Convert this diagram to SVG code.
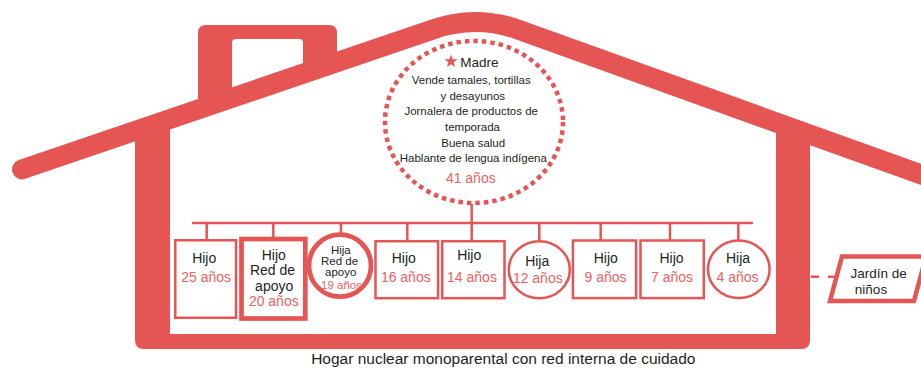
<svg xmlns="http://www.w3.org/2000/svg" width="921" height="380" viewBox="0 0 921 380">
<style>
.red{fill:#E55553}
.ln{stroke:#E55553;fill:none}
.thin{stroke:#E55553;stroke-width:2.5;fill:#fff}
.thick{stroke:#E55553;stroke-width:4.7;fill:#fff}
text{font-family:"Liberation Sans",Arial,sans-serif;text-anchor:middle}
.t{font-size:14px;fill:#231F20}
.a{font-size:14px;fill:#EA6260}
.s{font-size:11.5px;fill:#231F20}
.sa{font-size:11.5px;fill:#EA6260}
.m{font-size:11.5px;fill:#231F20}
</style>
<rect width="921" height="380" fill="#fff"/>
<g id="house">
  <path class="red" d="M198,105 V33 Q198,25 206,25 H329 Q337,25 337,33 V66 H303 V43 Q303,39 299,39 H236 Q232,39 232,43 V105 Z"/>
  <path class="red" d="M135,125 H170 V334 H776 V128 H810 V340 Q810,349 801,349 H144 Q135,349 135,340 Z"/>
  <path class="ln" stroke-width="20" stroke-linecap="round" stroke-linejoin="round" d="M22,169.4 L433.6,29.2 Q476.6,14.5 519.6,30.1 L935,179.5"/>
</g>
<g id="connectors">
  <line class="ln" stroke-width="2.5" x1="192" y1="223" x2="753" y2="223"/>
  <line class="ln" stroke-width="2.5" x1="471.7" y1="204" x2="471.7" y2="241"/>
  <line class="ln" stroke-width="2.5" x1="206.7" y1="223" x2="206.7" y2="241"/>
  <line class="ln" stroke-width="2.5" x1="273.3" y1="223" x2="273.3" y2="238"/>
  <line class="ln" stroke-width="2.5" x1="341" y1="223" x2="341" y2="234"/>
  <line class="ln" stroke-width="2.5" x1="407.3" y1="223" x2="407.3" y2="241"/>
  <line class="ln" stroke-width="2.5" x1="539.3" y1="223" x2="539.3" y2="241"/>
  <line class="ln" stroke-width="2.5" x1="600.7" y1="223" x2="600.7" y2="241"/>
  <line class="ln" stroke-width="2.5" x1="670" y1="223" x2="670" y2="241"/>
  <line class="ln" stroke-width="2.5" x1="738.3" y1="223" x2="738.3" y2="241"/>
  <line class="ln" stroke-width="2.5" stroke-dasharray="8 9" x1="811" y1="276.7" x2="837" y2="276.7"/>
</g>
<g id="madre">
  <ellipse cx="474" cy="122" rx="89" ry="81" fill="#fff" stroke="#E55553" stroke-width="4.5" stroke-dasharray="4.5 4"/>
  <polygon class="red" points="451,54.5 452.6,59.3 457.6,59.3 453.6,62.3 455.1,67.1 451,64.2 446.9,67.1 448.4,62.3 444.4,59.3 449.4,59.3"/>
  <text x="479.5" y="66.7" style="font-size:13.5px;fill:#231F20">Madre</text>
  <text class="m" x="471.2" y="84.3">Vende tamales, tortillas</text>
  <text class="m" x="472.8" y="99.5">y desayunos</text>
  <text class="m" x="471.2" y="115">Jornalera de productos de</text>
  <text class="m" x="472.5" y="130.5">temporada</text>
  <text class="m" x="473.2" y="146.5">Buena salud</text>
  <text class="m" x="473.3" y="162.3">Hablante de lengua indígena</text>
  <text x="470.8" y="182.5" style="font-size:14px;fill:#EA6260">41 años</text>
</g>
<g id="hijo25">
  <rect class="thin" x="175.25" y="240.25" width="60.8" height="77.5"/>
  <text class="t" x="204.2" y="263">Hijo</text>
  <text class="a" x="206.2" y="282">25 años</text>
</g>
<g id="hijo20">
  <rect class="thick" x="241.5" y="239" width="63.8" height="79.5"/>
  <text class="t" x="273.8" y="259.5">Hijo</text>
  <text class="t" x="272.5" y="275">Red de</text>
  <text class="t" x="274.2" y="290.5">apoyo</text>
  <text class="a" x="273.8" y="306">20 años</text>
</g>
<g id="hija19">
  <circle class="thick" cx="340" cy="265.7" r="31" stroke-width="4.5"/>
  <text class="s" x="340.8" y="253.5">Hija</text>
  <text class="s" x="339.5" y="265">Red de</text>
  <text class="s" x="340.7" y="276">apoyo</text>
  <text class="sa" x="341.5" y="289">19 años</text>
</g>
<g id="hijo16">
  <rect class="thin" x="375.5" y="241.2" width="62.6" height="57"/>
  <text class="t" x="403.8" y="263">Hijo</text>
  <text class="a" x="405.8" y="282">16 años</text>
</g>
<g id="hijo14">
  <rect class="thin" x="442.2" y="241.2" width="62.3" height="57"/>
  <text class="t" x="469.2" y="260">Hijo</text>
  <text class="a" x="472" y="281.7">14 años</text>
</g>
<g id="hija12">
  <ellipse class="thin" cx="539.3" cy="269.7" rx="30.5" ry="28.5"/>
  <text class="t" x="537.2" y="265.5">Hija</text>
  <text class="a" x="537.8" y="283.3">12 años</text>
</g>
<g id="hijo9">
  <rect class="thin" x="572.9" y="240.5" width="63.2" height="57.6"/>
  <text class="t" x="605.8" y="263">Hijo</text>
  <text class="a" x="605.5" y="281.7">9 años</text>
</g>
<g id="hijo7">
  <rect class="thin" x="640.5" y="240.5" width="63.3" height="57.6"/>
  <text class="t" x="671.5" y="263">Hijo</text>
  <text class="a" x="672" y="281.7">7 años</text>
</g>
<g id="hija4">
  <ellipse class="thin" cx="738.8" cy="269.3" rx="30.8" ry="28.8"/>
  <text class="t" x="738" y="262.5">Hija</text>
  <text class="a" x="737.5" y="281.7">4 años</text>
</g>
<g id="jardin">
  <polygon points="842,256.5 926,256.5 914,301 830,301" fill="#fff" stroke="#E55553" stroke-width="4.5"/>
  <text x="878.7" y="278.3" style="font-size:13.5px;fill:#231F20">Jardín de</text>
  <text x="871" y="293.5" style="font-size:13.5px;fill:#231F20">niños</text>
</g>
<text x="503.3" y="364" style="font-size:15.5px;fill:#231F20">Hogar nuclear monoparental con red interna de cuidado</text>
</svg>
